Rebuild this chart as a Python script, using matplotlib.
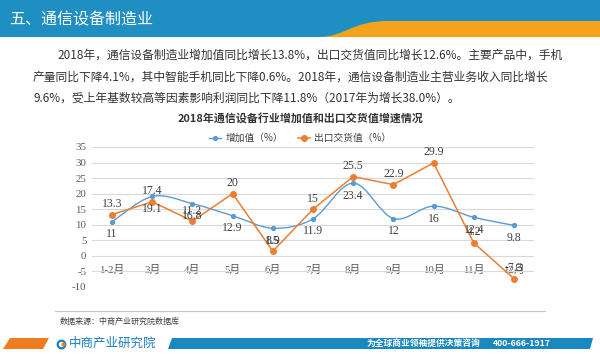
import matplotlib
matplotlib.use("Agg")
import matplotlib.pyplot as plt
from matplotlib.path import Path
from matplotlib.patches import PathPatch, Polygon, Rectangle
from matplotlib.lines import Line2D

plt.rcParams['font.family'] = ['Noto Sans CJK SC', 'DejaVu Sans']

# chart data
months = ['1-2月', '3月', '4月', '5月', '6月', '7月', '8月', '9月', '10月', '11月', '12月']
value_added = [11, 19.1, 16.8, 12.9, 8.9, 11.9, 23.4, 12, 16, 12.4, 9.8]
export_delivery = [13.3, 17.4, 11.2, 20, 1.5, 15, 25.5, 22.9, 29.9, 4.2, -7.3]
y_ticks = [-10, -5, 0, 5, 10, 15, 20, 25, 30, 35]

BLUE = '#5b9bd5'
ORANGE = '#ed7d31'
NUM_FONT = ['Liberation Serif', 'Noto Sans CJK SC']

header_title = '五、通信设备制造业'
body_lines = [
    '2018年，通信设备制造业增加值同比增长13.8%，出口交货值同比增长12.6%。主要产品中，手机',
    '产量同比下降4.1%，其中智能手机同比下降0.6%。2018年，通信设备制造业主营业务收入同比增长',
    '9.6%，受上年基数较高等因素影响利润同比下降11.8%（2017年为增长38.0%）。',
]
chart_title = '2018年通信设备行业增加值和出口交货值增速情况'
source_text = '数据来源：中商产业研究院数据库'


def smooth_path(xs, ys):
    """Excel-like smoothed line through the points (Catmull-Rom as cubic Bezier)."""
    pts = list(zip(xs, ys))
    verts = [pts[0]]
    codes = [Path.MOVETO]
    for i in range(len(pts) - 1):
        p0 = pts[i - 1] if i > 0 else pts[i]
        p1, p2 = pts[i], pts[i + 1]
        p3 = pts[i + 2] if i + 2 < len(pts) else pts[i + 1]
        c1 = (p1[0] + (p2[0] - p0[0]) / 6, p1[1] + (p2[1] - p0[1]) / 6)
        c2 = (p2[0] - (p3[0] - p1[0]) / 6, p2[1] - (p3[1] - p1[1]) / 6)
        verts += [c1, c2, p2]
        codes += [Path.CURVE4] * 3
    return Path(verts, codes)


fig = plt.figure(figsize=(6, 3.56), dpi=100)
fig.patch.set_facecolor('white')

# page decoration in pixel coordinates
bg = fig.add_axes([0, 0, 1, 1])
bg.set_xlim(0, 600)
bg.set_ylim(356, 0)
bg.axis('off')

bg.add_patch(Rectangle((0, 0), 600, 37, color='#1f8fc3', lw=0))
wave = Path([(318, 37), (345, 37), (352, 21), (388, 21), (600, 21), (600, 37), (318, 37)],
            [Path.MOVETO, Path.CURVE4, Path.CURVE4, Path.CURVE4, Path.LINETO, Path.LINETO, Path.CLOSEPOLY])
bg.add_patch(PathPatch(wave, facecolor='#f5a31b', lw=0))
bg.text(9, 20, header_title, color='white', fontsize=11.5, va='center', ha='left')

bg.text(57, 55, body_lines[0], fontsize=8.5, color='#333333', va='center')
bg.text(33, 77, body_lines[1], fontsize=8.5, color='#333333', va='center')
bg.text(33, 98, body_lines[2], fontsize=8.5, color='#333333', va='center')

bg.text(301, 118, chart_title, fontsize=7.9, fontweight='bold', color='#333333', ha='center', va='center')

bg.plot([55, 545], [311, 311], color='#b8c9da', lw=0.9)
bg.text(60, 321, source_text, fontsize=5.8, color='#404040', va='center')

# footer bar
bg.add_patch(Polygon([(3, 349), (10, 338), (49, 338), (43, 349)], closed=True, color='#ee7d22', lw=0))
bg.add_patch(Polygon([(168, 349), (172, 338), (593, 338), (590, 349)], closed=True, color='#1a88c0', lw=0))
bg.plot([61], [343.5], 'o', ms=5.5, mfc='white', mec='#1a7fc0', mew=1.6)
bg.plot([62.5], [343.5], 'o', ms=2, color='#ee7d22')
bg.text(69, 343.5, '中商产业研究院', fontsize=9, color='#1a7fc0', va='center')
bg.text(367, 343.5, '为全球商业领袖提供决策咨询', fontsize=6.3, fontweight='bold', color='white', va='center')
bg.text(493, 343.5, '400-666-1917', fontsize=6.3, fontweight='bold', color='white', va='center')

# the chart itself
ax = fig.add_axes([92 / 600, 1 - 287 / 356, (534 - 92) / 600, (287 - 147) / 356])
ax.patch.set_alpha(0)
x = list(range(len(months)))
ax.set_xlim(-0.5, len(months) - 0.5)
ax.set_ylim(-10, 35)
ax.set_yticks(y_ticks)
ax.set_yticklabels([str(t) for t in y_ticks], family=NUM_FONT, fontsize=7.8, color='#595959')
ax.yaxis.grid(True, color='#d9d9d9', lw=0.8)
ax.set_axisbelow(True)
for side in ['top', 'right', 'left']:
    ax.spines[side].set_visible(False)
ax.spines['bottom'].set_position(('data', 0))
ax.spines['bottom'].set_visible(False)
ax.set_xticks(x)
ax.set_xticklabels(months, family=NUM_FONT, fontsize=7.8, color='#595959')
ax.tick_params(axis='both', length=0)
ax.tick_params(axis='x', pad=6.5)
ax.tick_params(axis='y', pad=4)

ax.add_patch(PathPatch(smooth_path(x, value_added), fill=False, edgecolor=BLUE, lw=1.0, zorder=3))
ax.plot(x, value_added, 'o', color=BLUE, ms=2.8, zorder=4)
ax.plot(x, export_delivery, '-o', color=ORANGE, lw=1.1, ms=4, zorder=5)

for xi, v in zip(x, value_added):
    ax.annotate(f'{v:g}', (xi, v), xytext=(0, -9), textcoords='offset points',
                ha='center', va='center', fontsize=8.5, color='#404040', family=NUM_FONT, zorder=6)
for xi, v in zip(x, export_delivery):
    ax.annotate(f'{v:g}', (xi, v), xytext=(0, 7.5), textcoords='offset points',
                ha='center', va='center', fontsize=8.5, color='#404040', family=NUM_FONT, zorder=6)

handles = [Line2D([0], [0], color=BLUE, lw=1.0, marker='o', ms=2.8),
           Line2D([0], [0], color=ORANGE, lw=1.1, marker='o', ms=4)]
fig.legend(handles, ['增加值（%）', '出口交货值（%）'], loc='center', bbox_to_anchor=(300 / 600, 1 - 138 / 356),
           ncol=2, frameon=False, fontsize=7, handlelength=1.3, handletextpad=0.4, columnspacing=1.5,
           labelcolor='#404040')

fig.savefig('out.png', dpi=100)
